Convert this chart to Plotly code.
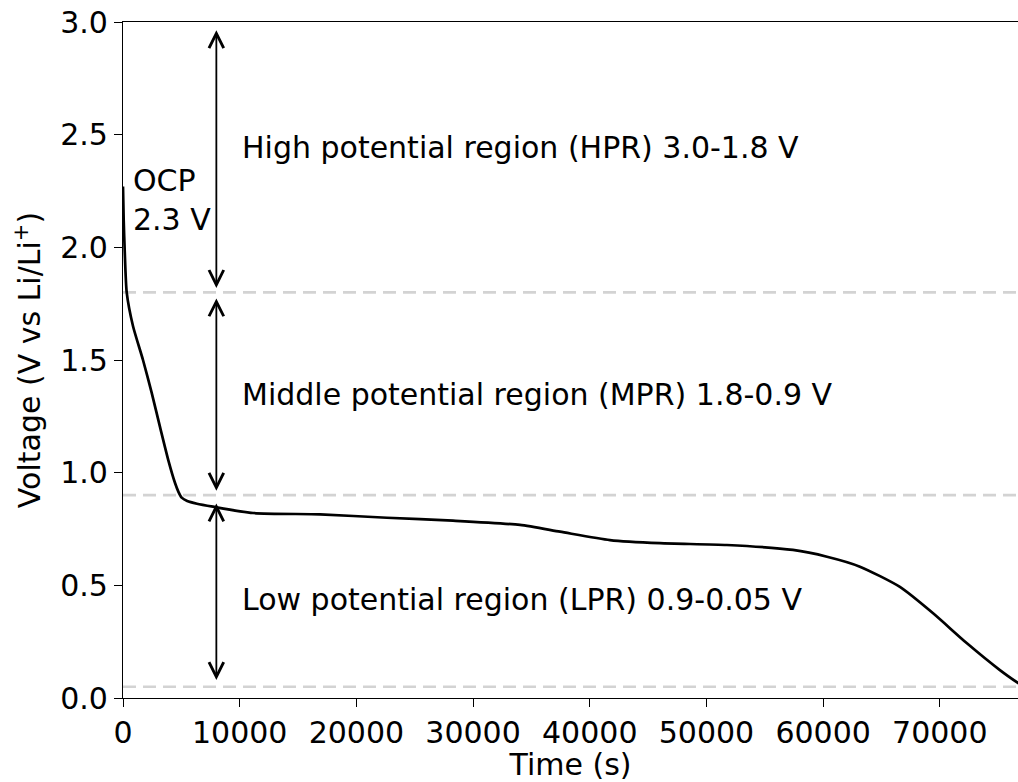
import plotly.graph_objects as go

# Discharge curve
time_s = [0, 60, 150, 317, 860, 1714, 2460, 3170, 3880, 4460, 4750, 5030, 5500, 6340,
          7710, 11140, 16880, 22620, 28280, 34020, 37450, 41730, 46020, 51750, 57410,
          60330, 63150, 66580, 69400, 72300, 75150, 76690, 77500]
voltage = [2.27, 2.12, 1.98, 1.80, 1.65, 1.50, 1.354, 1.203, 1.056, 0.954, 0.915,
           0.889, 0.874, 0.862, 0.849, 0.821, 0.815, 0.80, 0.787, 0.768, 0.738, 0.701,
           0.687, 0.679, 0.657, 0.627, 0.583, 0.493, 0.377, 0.244, 0.124, 0.067, 0.04]

boundaries = [1.8, 0.9, 0.05]
region_labels = ["High potential region (HPR) 3.0-1.8 V",
                 "Middle potential region (MPR) 1.8-0.9 V",
                 "Low potential region (LPR) 0.9-0.05 V"]
label_y = [2.445, 1.345, 0.435]
ocp_label = "OCP<br>2.3 V"
arrow_x = 8000
arrow_spans = [(2.97, 1.82), (1.78, 0.92), (0.87, 0.08)]
xticks = [0, 10000, 20000, 30000, 40000, 50000, 60000, 70000]
yticks = [0.0, 0.5, 1.0, 1.5, 2.0, 2.5, 3.0]

FONT = "DejaVu Sans"
FS = 30

fig = go.Figure()
fig.add_trace(go.Scatter(x=time_s, y=voltage, mode="lines",
                         line=dict(color="black", width=2.7, shape="spline", smoothing=0.6),
                         showlegend=False, hoverinfo="skip"))

shapes = []
for b in boundaries:
    shapes.append(dict(type="line", xref="paper", x0=0, x1=1, yref="y", y0=b, y1=b,
                       line=dict(color="#d3d3d3", width=2.7, dash="13px,7px"), layer="below"))

annotations = []
for (ytop, ybot) in arrow_spans:
    annotations.append(dict(x=arrow_x, y=ybot, ax=arrow_x, ay=ytop, xref="x", yref="y",
                            axref="x", ayref="y", showarrow=True, arrowhead=5,
                            startarrowhead=5, arrowside="end+start", arrowsize=1.6,
                            startarrowsize=1.6, arrowwidth=1.8, arrowcolor="black", text=""))
for lab, ly in zip(region_labels, label_y):
    annotations.append(dict(x=10000, y=ly, xref="x", yref="y", text=lab, showarrow=False,
                            xanchor="left", yanchor="middle",
                            font=dict(family=FONT, size=FS, color="black")))
annotations.append(dict(x=700, y=2.21, xref="x", yref="y", text=ocp_label, showarrow=False,
                        xanchor="left", yanchor="middle", align="left",
                        font=dict(family=FONT, size=FS, color="black")))

fig.update_layout(
    width=1018, height=782,
    margin=dict(l=123, r=0, t=22, b=84),
    paper_bgcolor="white", plot_bgcolor="white",
    shapes=shapes, annotations=annotations,
    font=dict(family=FONT, size=FS, color="black"),
)
fig.update_xaxes(range=[0, 76700], tickvals=xticks, ticktext=[str(v) for v in xticks],
                 showgrid=False, zeroline=False, showline=True, linecolor="black",
                 linewidth=1.2, mirror=True, ticks="outside", ticklen=8, tickwidth=1.2,
                 tickcolor="black", title=dict(text="Time (s)", standoff=4,
                                               font=dict(family=FONT, size=FS)),
                 tickfont=dict(family=FONT, size=FS, color="black"))
fig.update_yaxes(range=[0, 3.0], tickvals=yticks, ticktext=[f"{v:.1f}" for v in yticks],
                 showgrid=False, zeroline=False, showline=True, linecolor="black",
                 linewidth=1.2, mirror=False, ticks="outside", ticklen=8, tickwidth=1.2,
                 tickcolor="black", ticklabelstandoff=0,
                 title=dict(text="Voltage (V vs Li/Li<sup>+</sup>)", standoff=10,
                            font=dict(family=FONT, size=FS)),
                 tickfont=dict(family=FONT, size=FS, color="black"))

fig.write_html("out.html")
